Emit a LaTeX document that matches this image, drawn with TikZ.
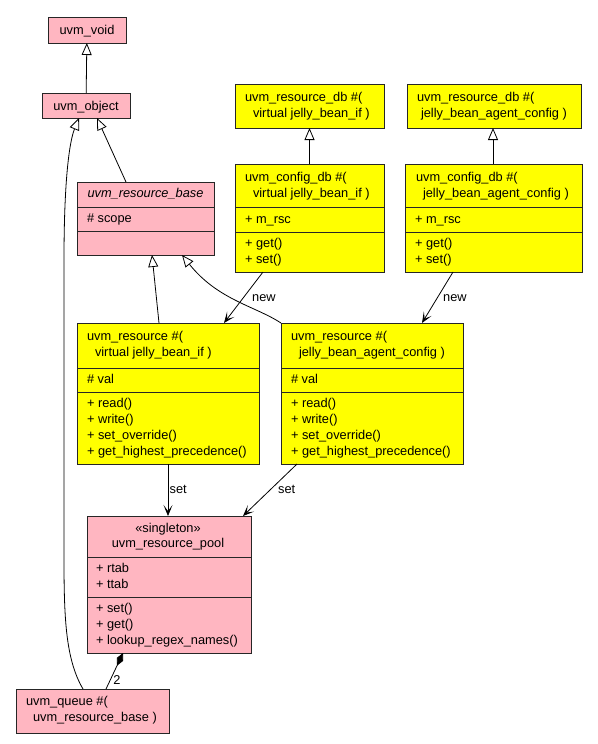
\documentclass[tikz,border=0pt]{standalone}
\usepackage{fontspec}
\setmainfont{Liberation Sans}
\usetikzlibrary{arrows.meta}
\definecolor{umlpink}{HTML}{FFB6C1}
\definecolor{umlyellow}{HTML}{FFFF00}
\newcommand\umlfont{\fontsize{12.8}{16}\selectfont}
% name, colour, left, top, right, bottom
\newcommand\ubox[6]{\node[ubox,fill=#2,anchor=north west,minimum width={(#5-#3)*1pt},minimum height={(#6-#4)*1pt}] (#1) at (#3,#4) {};}
% name, x, baseline y, text
\newcommand\tl[4]{\node[tlft] (#1) at (#2,#3) {#4};}
\newcommand\tc[4]{\node[tctr] (#1) at (#2,#3) {#4};}
\newcommand\dv[2]{\draw[dvline] (#1.west |- 0,#2) -- (#1.east |- 0,#2);}
\begin{document}
\begin{tikzpicture}[x=1pt,y=-1pt,
  ubox/.style={draw=black!85,line width=0.9pt,inner sep=0pt,outer sep=0pt},
  dvline/.style={draw=black!85,line width=0.9pt},
  tlft/.style={anchor=base west,inner sep=0pt,outer sep=0pt,font=\umlfont},
  tctr/.style={anchor=base,inner sep=0pt,outer sep=0pt,font=\umlfont},
  edgeline/.style={line width=0.8pt,draw=black},
  inh/.style={edgeline,-{Triangle[length=12pt,width=10pt,fill=white]}},
  dep/.style={edgeline,-{Stealth[length=11pt,width=9pt,inset=6pt]}},
  comp/.style={edgeline,{Diamond[length=14pt,width=7pt]}-},
  lbl/.style={anchor=base west,inner sep=0pt,font=\umlfont}]
\useasboundingbox (0,0) rectangle (597,744);
\fill[white] (0,0) rectangle (597,744);

% boxes
\ubox{void}{umlpink}{48}{17}{126}{43}
\ubox{object}{umlpink}{42}{93}{130}{118}
\ubox{base}{umlpink}{77}{182}{214}{255}
\ubox{rdbA}{umlyellow}{235}{84}{384}{128}
\ubox{rdbB}{umlyellow}{407}{84}{581}{128}
\ubox{cdbA}{umlyellow}{235}{164}{384}{272}
\ubox{cdbB}{umlyellow}{405}{164}{582}{272}
\ubox{resA}{umlyellow}{77}{323}{259}{464}
\ubox{resB}{umlyellow}{281}{323}{463}{464}
\ubox{pool}{umlpink}{87}{516}{251}{653}
\ubox{queue}{umlpink}{16}{689}{169}{733}

% dividers
\dv{base}{207}\dv{base}{231}
\dv{cdbA}{207}\dv{cdbA}{232}
\dv{cdbB}{207}\dv{cdbB}{232}
\dv{resA}{368}\dv{resA}{392}
\dv{resB}{368}\dv{resB}{392}
\dv{pool}{557}\dv{pool}{597}

% texts
\tc{tvoid}{87}{34.5}{uvm\_void}
\tc{tobject}{86}{110}{uvm\_object}
\tc{tbase}{145.5}{197.5}{\itshape uvm\_resource\_base}
\tl{tbasea}{87}{222.5}{\# scope}

\tl{trdbA1}{245}{101.5}{uvm\_resource\_db \#(}
\tl{trdbA2}{253}{117.5}{virtual jelly\_bean\_if )}
\tl{trdbB1}{417}{101.5}{uvm\_resource\_db \#(}
\tl{trdbB2}{421}{117.5}{jelly\_bean\_agent\_config )}

\tl{tcdbA1}{245}{181.5}{uvm\_config\_db \#(}
\tl{tcdbA2}{253}{197}{virtual jelly\_bean\_if )}
\tl{tcdbA3}{245}{223.5}{+ m\_rsc}
\tl{tcdbA4}{245}{247.5}{+ get()}
\tl{tcdbA5}{245}{263}{+ set()}
\tl{tcdbB1}{416}{181.5}{uvm\_config\_db \#(}
\tl{tcdbB2}{423}{197}{jelly\_bean\_agent\_config )}
\tl{tcdbB3}{415}{223.5}{+ m\_rsc}
\tl{tcdbB4}{415}{247.5}{+ get()}
\tl{tcdbB5}{415}{263}{+ set()}

\tl{tresA1}{87}{340.5}{uvm\_resource \#(}
\tl{tresA2}{95}{356.5}{virtual jelly\_bean\_if )}
\tl{tresA3}{87}{383.5}{\# val}
\tl{tresA4}{87}{407.5}{+ read()}
\tl{tresA5}{87}{423.5}{+ write()}
\tl{tresA6}{87}{439.5}{+ set\_override()}
\tl{tresA7}{87}{455.5}{+ get\_highest\_precedence()}
\tl{tresB1}{291}{340.5}{uvm\_resource \#(}
\tl{tresB2}{299}{356.5}{jelly\_bean\_agent\_config )}
\tl{tresB3}{291}{383.5}{\# val}
\tl{tresB4}{291}{407.5}{+ read()}
\tl{tresB5}{291}{423.5}{+ write()}
\tl{tresB6}{291}{439.5}{+ set\_override()}
\tl{tresB7}{291}{455.5}{+ get\_highest\_precedence()}

\tc{tpool1}{168}{532.5}{«singleton»}
\tc{tpool2}{168}{547.5}{uvm\_resource\_pool}
\tl{tpool3}{96}{572.5}{+ rtab}
\tl{tpool4}{96}{588.5}{+ ttab}
\tl{tpool5}{96}{612.5}{+ set()}
\tl{tpool6}{96}{628}{+ get()}
\tl{tpool7}{96}{644}{+ lookup\_regex\_names()}

\tl{tqueue1}{26}{705.5}{uvm\_queue \#(}
\tl{tqueue2}{33}{721.5}{uvm\_resource\_base )}

% connectors
\draw[inh] (object) -- (void);
\draw[inh] (base.north -| 126,0) -- (object.south -| 97,0);
\draw[inh] (queue.north -| 83,0) .. controls (66,660) and (64,620) .. (64,560)
  -- (64,260) .. controls (64,175) and (70,140) .. (object.south -| 79,0);
\draw[inh] (resA.north -| 159,0) -- (base.south -| 152,0);
\draw[inh] (resB.north west) .. controls (255,306) and (218,300) .. (base.south -| 182,0);
\draw[inh] (cdbA) -- (rdbA);
\draw[inh] (cdbB.north -| 493,0) -- (rdbB.south -| 493,0);

\draw[dep] (cdbA.south -| 263,0) -- (resA.north -| 224,0);
\node[lbl] (lnewA) at (252,301.5) {new};
\draw[dep] (cdbB.south -| 453,0) -- (resB.north -| 422,0);
\node[lbl] (lnewB) at (443,301.5) {new};

\draw[dep] (resA.south -| 168,0) -- (pool.north -| 168,0);
\node[lbl] (lsetA) at (169.5,493.5) {set};
\draw[dep] (resB.south -| 297,0) -- (pool.north -| 243,0);
\node[lbl] (lsetB) at (278,493.5) {set};

\draw[comp] (pool.south -| 123,0) -- (queue.north -| 106,0);
\node[tctr] (lcomp) at (117,684.5) {2};
\end{tikzpicture}
\end{document}
